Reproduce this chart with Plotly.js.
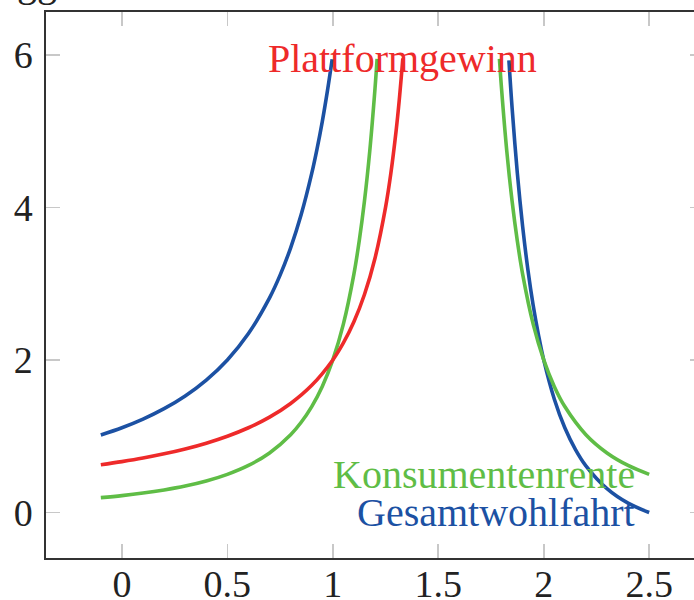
<!DOCTYPE html>
<html>
<head>
<meta charset="utf-8">
<script src="https://cdn.plot.ly/plotly-3.0.1.min.js"></script>
<style>
html,body{margin:0;padding:0;overflow:hidden;background:#fff;}
#chart{width:706px;height:600px;}
</style>
</head>
<body>
<div id="chart"></div>
<script>
// Gesamtwohlfahrt (blue), left and right branch
const blueLeftX  = [-0.1, 0, 0.1, 0.2, 0.3, 0.4, 0.5, 0.6, 0.7, 0.75, 0.8, 0.85, 0.9, 0.925, 0.95, 0.975, 0.997];
const blueLeftY  = [1.016, 1.111, 1.224, 1.361, 1.528, 1.736, 2.0, 2.346, 2.813, 3.111, 3.469, 3.905, 4.444, 4.763, 5.124, 5.536, 5.94];
const blueRightX = [1.835, 1.85, 1.875, 1.9, 1.925, 1.95, 1.975, 2.0, 2.05, 2.1, 2.15, 2.2, 2.3, 2.4, 2.5];
const blueRightY = [5.926, 5.306, 4.444, 3.75, 3.183, 2.716, 2.330, 2.0, 1.488, 1.111, 0.828, 0.612, 0.313, 0.123, 0.0];

// Konsumentenrente (green)
const greenLeftX  = [-0.1, 0, 0.1, 0.2, 0.3, 0.4, 0.5, 0.6, 0.7, 0.8, 0.85, 0.9, 0.95, 1.0, 1.05, 1.1, 1.125, 1.15, 1.175, 1.2, 1.21];
const greenLeftY  = [0.195, 0.222, 0.255, 0.296, 0.347, 0.413, 0.5, 0.617, 0.781, 1.020, 1.183, 1.389, 1.653, 2.0, 2.469, 3.125, 3.556, 4.082, 4.734, 5.556, 5.945];
const greenRightX = [1.79, 1.8, 1.825, 1.85, 1.875, 1.9, 1.95, 2.0, 2.05, 2.1, 2.2, 2.3, 2.4, 2.5];
const greenRightY = [5.945, 5.556, 4.734, 4.082, 3.556, 3.125, 2.469, 2.0, 1.653, 1.389, 1.020, 0.781, 0.617, 0.5];

// Plattformgewinn (red)
const redX = [-0.1, 0, 0.1, 0.2, 0.3, 0.4, 0.5, 0.6, 0.7, 0.8, 0.9, 1.0, 1.05, 1.1, 1.15, 1.2, 1.25, 1.275, 1.3, 1.315, 1.332];
const redY = [0.625, 0.667, 0.714, 0.769, 0.833, 0.909, 1.0, 1.111, 1.25, 1.429, 1.667, 2.0, 2.222, 2.5, 2.857, 3.333, 4.0, 4.444, 5.0, 5.405, 5.952];

const xTicks = [0, 0.5, 1, 1.5, 2, 2.5];
const xTickLabels = ['0', '0.5', '1', '1.5', '2', '2.5'];
const yTicks = [0, 2, 4, 6];
const yTickLabels = ['0', '2', '4', '6'];

const labels = ['Plattformgewinn', 'Konsumentenrente', 'Gesamtwohlfahrt'];

const BLUE = '#1c51a3', GREEN = '#5fbd46', RED = '#ee2a2a';
const FONT = 'Liberation Serif, Times New Roman, serif';
const FS = 38;
const LFS = 40;

function line(x, y, color) {
  return {x: x, y: y, type: 'scatter', mode: 'lines',
    line: {color: color, width: 3.6, shape: 'spline', smoothing: 1},
    hoverinfo: 'skip', showlegend: false};
}

const traces = [
  line(blueLeftX, blueLeftY, BLUE),
  line(blueRightX, blueRightY, BLUE),
  line(greenLeftX, greenLeftY, GREEN),
  line(greenRightX, greenRightY, GREEN),
  line(redX, redY, RED)
];

const axisCommon = {
  showgrid: false, zeroline: false, showline: true, linecolor: '#333', linewidth: 1.6,
  mirror: 'allticks', ticks: 'inside', ticklen: 14, tickwidth: 1.6, tickcolor: '#c8c8c8',
  tickfont: {family: FONT, size: FS, color: '#222'}, automargin: false
};

const layout = {
  width: 706, height: 600,
  margin: {l: 46, r: 2, t: 12, b: 42},
  paper_bgcolor: '#fff', plot_bgcolor: '#fff',
  xaxis: Object.assign({}, axisCommon, {range: [-0.36, 2.76], tickvals: xTicks, ticktext: xTickLabels, ticklabelstandoff: -8}),
  yaxis: Object.assign({}, axisCommon, {range: [-0.596, 6.56], tickvals: yTicks, ticktext: yTickLabels, ticklabelstandoff: 4}),
  annotations: [
    {x: redX[redX.length - 1], y: redY[redY.length - 1], xref: 'x', yref: 'y', text: labels[0],
     showarrow: false, xanchor: 'center', yanchor: 'middle', font: {family: FONT, size: LFS, color: RED}},
    {x: greenRightX[greenRightX.length - 1], y: greenRightY[greenRightY.length - 1], xref: 'x', yref: 'y', text: labels[1],
     showarrow: false, xanchor: 'right', yanchor: 'middle', xshift: -12, font: {family: FONT, size: LFS, color: GREEN}},
    {x: blueRightX[blueRightX.length - 1], y: blueRightY[blueRightY.length - 1], xref: 'x', yref: 'y', text: labels[2],
     showarrow: false, xanchor: 'right', yanchor: 'middle', xshift: -12, font: {family: FONT, size: LFS, color: BLUE}},
    {x: -0.047, y: 1, xref: 'paper', yref: 'paper', text: 'gg', showarrow: false,
     xanchor: 'left', yanchor: 'bottom', yshift: 5, font: {family: FONT, size: LFS, color: '#222'}}
  ]
};

Plotly.newPlot('chart', traces, layout, {staticPlot: true, displayModeBar: false});
</script>
</body>
</html>
